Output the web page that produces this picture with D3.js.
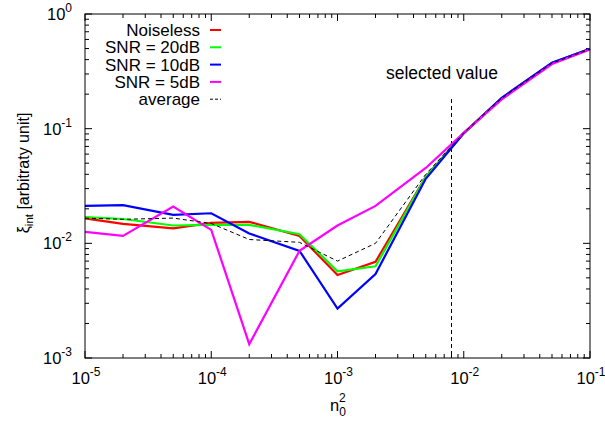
<!DOCTYPE html>
<html>
<head>
<meta charset="utf-8">
<script src="https://cdn.jsdelivr.net/npm/d3@7"></script>
<style>
  body { margin: 0; background: #fff; }
  text { font-family: "Liberation Sans", Arial, Helvetica, sans-serif; }
</style>
</head>
<body>
<svg id="chart" width="605" height="421"></svg>
<script>
// values
const nSquared = [1e-5, 2e-5, 5e-5, 1e-4, 2e-4, 5e-4, 1e-3, 2e-3, 5e-3, 1e-2, 2e-2, 5e-2, 1e-1];
const noiseless = [0.0165, 0.0148, 0.0135, 0.0151, 0.0154, 0.0116, 0.0053, 0.0069, 0.0379, 0.0917, 0.185, 0.374, 0.495];
const snr20 = [0.0169, 0.0163, 0.0143, 0.0145, 0.0145, 0.0120, 0.0057, 0.0063, 0.0379, 0.0917, 0.185, 0.374, 0.495];
const snr10 = [0.0212, 0.0215, 0.0177, 0.0183, 0.0122, 0.0086, 0.0027, 0.0054, 0.0365, 0.0910, 0.186, 0.376, 0.497];
const snr5 = [0.0126, 0.0116, 0.0209, 0.0131, 0.00132, 0.0086, 0.0143, 0.0212, 0.0454, 0.0920, 0.180, 0.366, 0.490];
const average = [0.0166, 0.0162, 0.0166, 0.0149, 0.0108, 0.0102, 0.0070, 0.0100, 0.0400, 0.0920, 0.184, 0.372, 0.494];

const seriesNames = ["Noiseless", "SNR = 20dB", "SNR = 10dB", "SNR = 5dB", "average"];
const seriesValues = [noiseless, snr20, snr10, snr5, average];
const seriesColors = ["#ff0000", "#00ff00", "#0000ff", "#ff00ff", "#000000"];

const xDecades = [-5, -4, -3, -2, -1];
const yDecades = [-3, -2, -1, 0];
const selectedValue = 8e-3;

const svg = d3.select('#chart');
const plotL = 85, plotR = 590, plotT = 14, plotB = 358;

const x = d3.scaleLog().domain([1e-5, 1e-1]).range([plotL, plotR]);
const y = d3.scaleLog().domain([1e-3, 1]).range([plotB, plotT]);

// minor + major tick values
function logTicks(lo, hi) {
	let t = [];
	for (let e = lo; e < hi; e++) {
		for (let m = 1; m < 10; m++) t.push({ v: m * Math.pow(10, e), major: m === 1 });
	}
	t.push({ v: Math.pow(10, hi), major: true });
	return t;
}

const grid = svg.append('g');

// x ticks, bottom and top, pointing inward
logTicks(-5, -1).forEach(t => {
	let len = t.major ? 7 : 4;
	grid.append('line').attr('x1', x(t.v)).attr('x2', x(t.v))
		.attr('y1', plotB).attr('y2', plotB - len).attr('stroke', '#000');
	grid.append('line').attr('x1', x(t.v)).attr('x2', x(t.v))
		.attr('y1', plotT).attr('y2', plotT + len).attr('stroke', '#000');
});
logTicks(-3, 0).forEach(t => {
	let len = t.major ? 7 : 4;
	grid.append('line').attr('y1', y(t.v)).attr('y2', y(t.v))
		.attr('x1', plotL).attr('x2', plotL + len).attr('stroke', '#000');
	grid.append('line').attr('y1', y(t.v)).attr('y2', y(t.v))
		.attr('x1', plotR).attr('x2', plotR - len).attr('stroke', '#000');
});

// power-of-ten labels
function powLabel(g, px, py, exp, anchor) {
	let t = g.append('text').attr('x', px).attr('y', py)
		.attr('text-anchor', anchor).style('font-size', '16.5px');
	t.append('tspan').text('10');
	t.append('tspan').attr('dy', -8).style('font-size', '12px').text(exp === 0 ? '0' : '-' + Math.abs(exp));
}

xDecades.forEach(e => powLabel(svg, x(Math.pow(10, e)) + 1, 384, e, 'middle'));
yDecades.forEach(e => powLabel(svg, 72, y(Math.pow(10, e)) + 6, e, 'end'));

// axis titles
let xt = svg.append('text').attr('x', 338).attr('y', 411)
	.attr('text-anchor', 'middle').style('font-size', '16.5px');
xt.append('tspan').text('n');
xt.append('tspan').attr('dy', 5).style('font-size', '12px').text('0');
xt.append('tspan').attr('dx', -7).attr('dy', -14).style('font-size', '12px').text('2');

let yt = svg.append('text').attr('transform', 'translate(29,173) rotate(-90)')
	.attr('text-anchor', 'middle').style('font-size', '16px');
yt.append('tspan').text('ξ');
yt.append('tspan').attr('dy', 4).style('font-size', '11.5px').text('int');
yt.append('tspan').attr('dy', -4).text(' [arbitraty unit]');

// selected value marker
svg.append('line')
	.attr('x1', x(selectedValue)).attr('x2', x(selectedValue))
	.attr('y1', 99).attr('y2', plotB)
	.attr('stroke', '#000').attr('stroke-dasharray', '4,3');
svg.append('text').attr('x', 386).attr('y', 79)
	.style('font-size', '17.5px').text('selected value');

// curves
const line = d3.line().x(d => x(d[0])).y(d => y(d[1]));
seriesValues.forEach((vals, i) => {
	let pts = nSquared.map((n, k) => [n, vals[k]]);
	let isAvg = i === 4;
	svg.append('path').datum(pts)
		.attr('d', line)
		.attr('fill', 'none')
		.attr('stroke', seriesColors[i])
		.attr('stroke-width', isAvg ? 1 : 2.2)
		.attr('stroke-dasharray', isAvg ? '4,3' : null);
});

// legend
const legend = svg.append('g');
seriesNames.forEach((name, i) => {
	let ly = 30 + i * 17.3;
	legend.append('text').attr('x', 200).attr('y', ly + 6)
		.attr('text-anchor', 'end').style('font-size', '17px').text(name);
	legend.append('line').attr('x1', 210).attr('x2', 221)
		.attr('y1', ly).attr('y2', ly)
		.attr('stroke', seriesColors[i])
		.attr('stroke-width', i === 4 ? 1 : 2)
		.attr('stroke-dasharray', i === 4 ? '3,2' : null);
});

// frame
svg.append('rect').attr('x', plotL).attr('y', plotT)
	.attr('width', plotR - plotL).attr('height', plotB - plotT)
	.attr('fill', 'none').attr('stroke', '#000');
</script>
</body>
</html>
